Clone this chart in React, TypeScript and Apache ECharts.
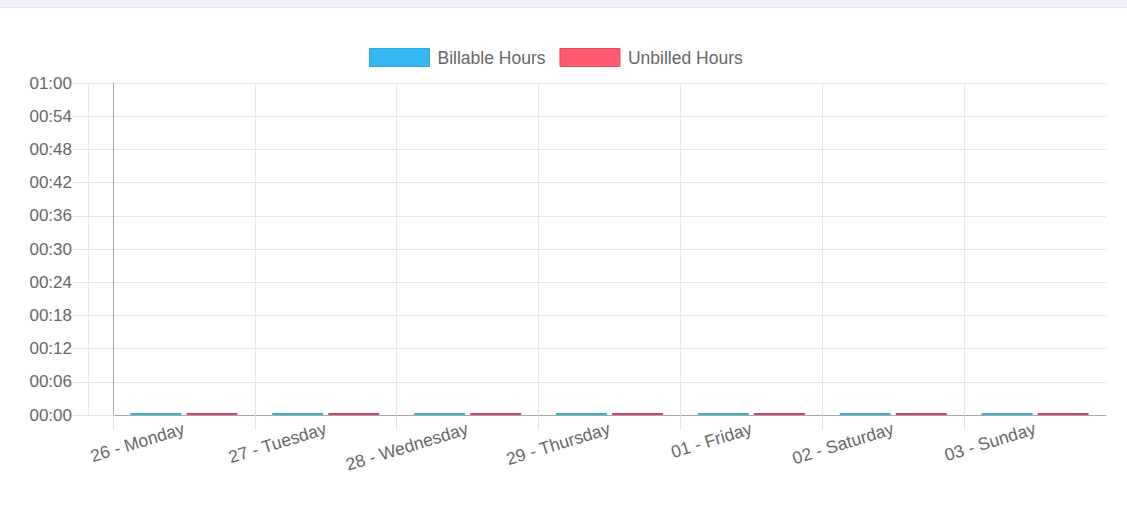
import React, { useEffect, useRef } from "react";
import * as echarts from "echarts";

const categories = [
  "26 - Monday",
  "27 - Tuesday",
  "28 - Wednesday",
  "29 - Thursday",
  "01 - Friday",
  "02 - Saturday",
  "03 - Sunday",
];
const billableMinutes = [0, 0, 0, 0, 0, 0, 0];
const unbilledMinutes = [0, 0, 0, 0, 0, 0, 0];
const yMin = 0;
const yMax = 60;
const yStep = 6;

const pad = (n: number) => String(n).padStart(2, "0");
const fmt = (v: number) => `${pad(Math.floor(v / 60))}:${pad(v % 60)}`;

const FONT = "'Liberation Sans', Arial, Helvetica, sans-serif";

export default function App() {
  const ref = useRef<HTMLDivElement>(null);
  useEffect(() => {
    if (!ref.current) return;
    const chart = echarts.init(ref.current, null, { renderer: "svg" });
    chart.setOption({
      animation: false,
      backgroundColor: "#ffffff",
      textStyle: { fontFamily: FONT },
      graphic: [
        { type: "rect", shape: { x: 0, y: 0, width: 1127, height: 8 }, style: { fill: "#eef2f6" }, silent: true },
        { type: "line", shape: { x1: 0, y1: 7.5, x2: 1127, y2: 7.5 }, style: { stroke: "#e2e7ed", lineWidth: 1 }, silent: true },
        { type: "line", shape: { x1: 88.5, y1: 83, x2: 88.5, y2: 415 }, style: { stroke: "#e6e6e6", lineWidth: 1 }, silent: true },
        { type: "rect", shape: { x: 1103, y: 416, width: 6, height: 16 }, style: { fill: "#ffffff" }, silent: true, z: 100 },
      ],
      legend: {
        left: 369,
        top: 48,
        padding: 0,
        itemWidth: 60,
        itemHeight: 18,
        itemGap: 14,
        icon: "rect",
        textStyle: { fontSize: 17.5, color: "#666", fontFamily: FONT, padding: [0, 0, 0, 3] },
        data: [
          { name: "Billable Hours", itemStyle: { color: "#36b7f2", borderColor: "#2ea6dc", borderWidth: 1 } },
          { name: "Unbilled Hours", itemStyle: { color: "#ff5a6f", borderColor: "#e04a60", borderWidth: 1 } },
        ],
      },
      grid: { left: 113, right: 21, top: 83, bottom: 104, containLabel: false },
      xAxis: [
        {
          type: "category",
          data: categories,
          boundaryGap: true,
          axisLine: { show: true, lineStyle: { color: "#a8a8a8", width: 1 } },
          axisTick: { show: true, length: 15, lineStyle: { color: "#e2e2e2" } },
          splitLine: { show: false },
          axisLabel: {
            rotate: 17,
            margin: 13,
            fontSize: 17.5,
            color: "#666",
            fontFamily: FONT,
            interval: 0,
          },
        },
        {
          type: "value",
          min: 0,
          max: categories.length,
          interval: 1,
          position: "bottom",
          axisLine: { show: false },
          axisTick: { show: false },
          axisLabel: { show: false },
          splitLine: { show: true, showMaxLine: false, lineStyle: { color: "#e6e6e6", width: 1 } },
        },
      ],
      yAxis: {
        type: "value",
        min: yMin,
        max: yMax,
        interval: yStep,
        axisLine: { show: true, lineStyle: { color: "#a8a8a8", width: 1 } },
        axisTick: { show: true, length: 40, lineStyle: { color: "#e2e2e2" } },
        splitLine: { show: true, lineStyle: { color: "#e6e6e6", width: 1 } },
        axisLabel: {
          margin: 41,
          fontSize: 17,
          color: "#666",
          fontFamily: FONT,
          formatter: (v: number) => fmt(v),
        },
      },
      series: [
        {
          name: "Billable Hours",
          type: "bar",
          xAxisIndex: 0,
          data: billableMinutes,
          barWidth: 51,
          barGap: "10%",
          barMinHeight: 2,
          itemStyle: { color: "#3bb3c6" },
        },
        {
          name: "Unbilled Hours",
          type: "bar",
          xAxisIndex: 0,
          data: unbilledMinutes,
          barWidth: 51,
          barGap: "10%",
          barMinHeight: 2,
          itemStyle: { color: "#c9466a" },
        },
      ],
    });
    return () => chart.dispose();
  }, []);
  return (
    <div
      ref={ref}
      style={{ position: "fixed", left: 0, top: 0, width: 1127, height: 519 }}
    />
  );
}
